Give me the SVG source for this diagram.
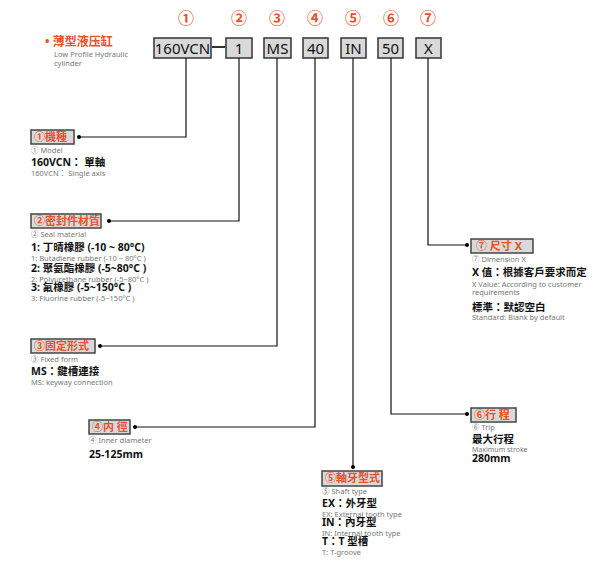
<svg xmlns="http://www.w3.org/2000/svg" width="600" height="587" viewBox="0 0 600 587">
<style>
text{font-family:"Noto Sans","Noto Sans CJK TC",sans-serif}
.cn{fill:#e8502a;font-size:16px;font-weight:bold;text-anchor:middle}
.code{fill:#d9d9d9;stroke:#333;stroke-width:1.5}
.ct{font-size:15px;fill:#111;text-anchor:middle}
.lb{fill:#d9d9d9;stroke:#444;stroke-width:1.5}
.lt{fill:#e8502a;font-size:11px;font-weight:bold}
.g{fill:#777;font-size:7.5px}
.b{fill:#111;font-size:10.5px;font-weight:bold}
.ln{fill:none;stroke:#111;stroke-width:1.2}
</style>
<rect width="600" height="587" fill="#fff"/>
<g id="title">
<text x="45" y="46" fill="#e8502a" font-size="12" font-weight="bold">• 薄型液压缸</text>
<text x="54" y="57" class="g">Low Profile Hydraulic</text>
<text x="54" y="66" class="g">cylinder</text>
</g>
<g id="code">
<text x="186" y="24" class="cn">①</text><text x="239" y="24" class="cn">②</text><text x="277" y="24" class="cn">③</text><text x="315" y="24" class="cn">④</text><text x="353" y="24" class="cn">⑤</text><text x="391" y="24" class="cn">⑥</text><text x="428" y="24" class="cn">⑦</text>
<rect class="code" x="154" y="38" width="57" height="20"/><text x="182.5" y="53.5" class="ct">160VCN</text>
<line x1="212" y1="47" x2="225" y2="47" stroke="#333" stroke-width="2"/>
<rect class="code" x="226" y="38" width="26" height="20"/><text x="239" y="53.5" class="ct">1</text>
<rect class="code" x="264" y="38" width="27" height="20"/><text x="277.5" y="53.5" class="ct">MS</text>
<rect class="code" x="303" y="38" width="25" height="20"/><text x="315.5" y="53.5" class="ct">40</text>
<rect class="code" x="341" y="38" width="25" height="20"/><text x="353.5" y="53.5" class="ct">IN</text>
<rect class="code" x="378" y="38" width="25" height="20"/><text x="390.5" y="53.5" class="ct">50</text>
<rect class="code" x="416" y="38" width="25" height="20"/><text x="428.5" y="53.5" class="ct">X</text>
</g>
<g id="connectors">
<polyline class="ln" points="186,58 186,137 79,137"/><circle cx="79" cy="137" r="2"/>
<polyline class="ln" points="239,58 239,221 109,221"/><circle cx="109" cy="221" r="2"/>
<polyline class="ln" points="277,58 277,346 100,346"/><circle cx="100" cy="346" r="2"/>
<polyline class="ln" points="315,58 315,427 135,427"/><circle cx="135" cy="427" r="2"/>
<polyline class="ln" points="353,58 353,467"/><circle cx="353" cy="467" r="2"/>
<polyline class="ln" points="391,58 391,414 467,414"/><circle cx="467" cy="414" r="2"/>
<polyline class="ln" points="428,58 428,245 467,245"/><circle cx="467" cy="245" r="2"/>
</g>
<g id="n1">
<rect class="lb" x="31" y="130" width="43" height="14"/><text x="34" y="141" class="lt">①機種</text>
<text x="31" y="153" class="g">① Model</text>
<text x="31" y="166" class="b">160VCN： 單軸</text>
<text x="31" y="176" class="g">160VCN： Single axis</text>
</g>
<g id="n2">
<rect class="lb" x="31" y="214" width="70" height="14"/><text x="34" y="225" class="lt">②密封件材質</text>
<text x="31" y="237" class="g">② Seal material</text>
<text x="31" y="251" class="b">1:  丁晴橡膠 (-10 ~ 80°C)</text>
<text x="31" y="261" class="g">1:  Butadiene rubber (-10 ~ 80°C )</text>
<text x="31" y="272" class="b">2:  聚氨酯橡膠 (-5~80°C )</text>
<text x="31" y="282" class="g">2:  Polyurethane rubber (-5~80°C )</text>
<text x="31" y="291" class="b">3:  氟橡膠 (-5~150°C )</text>
<text x="31" y="301" class="g">3:  Fluorine rubber (-5~150°C )</text>
</g>
<g id="n3">
<rect class="lb" x="31" y="339" width="64" height="14"/><text x="34" y="350" class="lt">③固定形式</text>
<text x="31" y="362" class="g">③ Fixed form</text>
<text x="31" y="375" class="b">MS：鍵槽連接</text>
<text x="31" y="385" class="g">MS:  keyway connection</text>
</g>
<g id="n4">
<rect class="lb" x="89" y="420" width="41" height="14"/><text x="92" y="431" class="lt">④内 徑</text>
<text x="89" y="443" class="g">④ Inner diameter</text>
<text x="89" y="458" class="b">25-125mm</text>
</g>
<g id="n5">
<rect class="lb" x="322" y="471" width="60" height="15"/><text x="325" y="482" class="lt">⑤軸牙型式</text>
<text x="322" y="494" class="g">⑤ Shaft type</text>
<text x="322" y="507" class="b">EX：外牙型</text>
<text x="322" y="517" class="g">EX:   External tooth type</text>
<text x="322" y="526" class="b">IN：內牙型</text>
<text x="322" y="536" class="g">IN:   Internal tooth type</text>
<text x="322" y="545" class="b">T：T 型槽</text>
<text x="322" y="555" class="g">T:  T-groove</text>
</g>
<g id="n6">
<rect class="lb" x="471" y="408" width="45" height="14"/><text x="474" y="419" class="lt">⑥行 程</text>
<text x="472" y="430" class="g">⑥ Trip</text>
<text x="472" y="443" class="b">最大行程</text>
<text x="472" y="451.5" class="g" style="font-size:7px">Maximum stroke</text>
<text x="472" y="462" class="b">280mm</text>
</g>
<g id="n7">
<rect class="lb" x="471" y="239" width="62" height="14"/><text x="476" y="250" class="lt">⑦ 尺寸 X</text>
<text x="472" y="262" class="g">⑦ Dimension X</text>
<text x="472" y="276" class="b">X 值：根據客戶要求而定</text>
<text x="472" y="287" class="g">X Value:  According to customer</text>
<text x="472" y="295" class="g">requirements</text>
<text x="472" y="311" class="b">標準：默認空白</text>
<text x="472" y="320" class="g">Standard:  Blank by default</text>
</g>
</svg>
